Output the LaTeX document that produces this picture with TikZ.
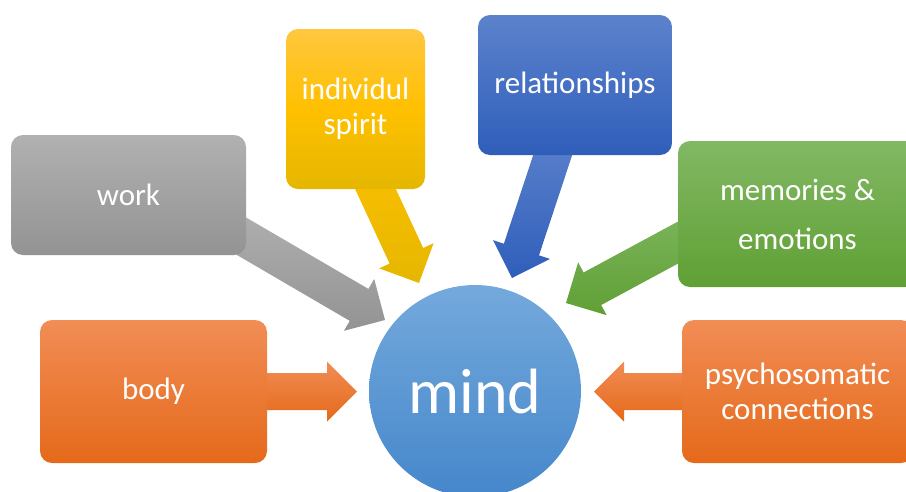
\documentclass[tikz,border=0pt]{standalone}
\usepackage{fontspec}
\setmainfont{Carlito}
\usetikzlibrary{calc}
\definecolor{grayT}{HTML}{B1B1B1}\definecolor{grayB}{HTML}{939393}
\definecolor{oraT}{HTML}{F18D55}\definecolor{oraB}{HTML}{E5691A}
\definecolor{yelT}{HTML}{FFC73F}\definecolor{yelB}{HTML}{E5B700}
\definecolor{yelM}{HTML}{FFC000}
\definecolor{bluT}{HTML}{5C82CC}\definecolor{bluB}{HTML}{2F5EBA}
\definecolor{grnT}{HTML}{82B864}\definecolor{grnB}{HTML}{5FA034}
\definecolor{cirT}{HTML}{74A9DC}\definecolor{cirB}{HTML}{4587CB}
\newcommand{\blockarrow}[4]{%
  \coordinate (#2-h) at ($(#2)!30pt!(#1)$);
  \path[top color=#3, bottom color=#4]
    ($(#1)!18.5pt!90:(#2)$) -- ($(#2-h)!18.5pt!90:(#2)$) -- ($(#2-h)!30pt!90:(#2)$) -- (#2)
    -- ($(#2-h)!30pt!-90:(#2)$) -- ($(#2-h)!18.5pt!-90:(#2)$) -- ($(#1)!18.5pt!-90:(#2)$) -- cycle;
}
\tikzset{
  box/.style={rounded corners=12pt, inner sep=0pt, text=white, align=center,
    font=\fontsize{31}{35}\selectfont},
}
\begin{document}
\begin{tikzpicture}[x=1pt,y=-1pt]
\useasboundingbox (0,0) rectangle (906,491);
% arrow endpoints
\coordinate (workS) at (212,219);   \coordinate (workT) at (385,320);
\coordinate (spiS) at (356,147);    \coordinate (spiT) at (419,283);
\coordinate (relS) at (559,136);    \coordinate (relT) at (512,278);
\coordinate (memS) at (742,208);    \coordinate (memT) at (566,303);
\coordinate (bodS) at (250,391.5);  \coordinate (bodT) at (357,391.5);
\coordinate (psyS) at (700,391.5);  \coordinate (psyT) at (594,391.5);
% arrows
\blockarrow{workS}{workT}{grayT}{grayB}
\blockarrow{spiS}{spiT}{yelM}{yelB}
\blockarrow{relS}{relT}{bluT}{bluB}
\blockarrow{memS}{memT}{grnT}{grnB}
\blockarrow{bodS}{bodT}{oraT}{oraB}
\blockarrow{psyS}{psyT}{oraT}{oraB}
% boxes
\node[box, minimum width=235pt, minimum height=120pt, top color=grayT, bottom color=grayB]
  (work) at (128.5,195) {work};
\node[box, minimum width=227pt, minimum height=143pt, top color=oraT, bottom color=oraB]
  (body) at (153.5,391.5) {body};
\node[box, minimum width=139pt, minimum height=160pt, top color=yelT, bottom color=yelB, middle color=yelM]
  (spirit) at (355.5,109) {individul\\spirit};
\node[box, minimum width=194pt, minimum height=140pt, top color=bluT, bottom color=bluB]
  (rel) at (575,85) {relationships};
\node[box, minimum width=239pt, minimum height=146pt, top color=grnT, bottom color=grnB,
  font=\fontsize{31}{49}\selectfont]
  (mem) at (797.5,214) {memories \&\\emotions};
\node[box, minimum width=231pt, minimum height=143pt, top color=oraT, bottom color=oraB]
  (psy) at (797.5,391.5) {psychosomatic\\connections};
\node[circle, minimum size=212pt, inner sep=0pt, top color=cirT, bottom color=cirB,
  text=white, font=\fontsize{64}{64}\selectfont] (mind) at (475,391) {mind};
\end{tikzpicture}
\end{document}
